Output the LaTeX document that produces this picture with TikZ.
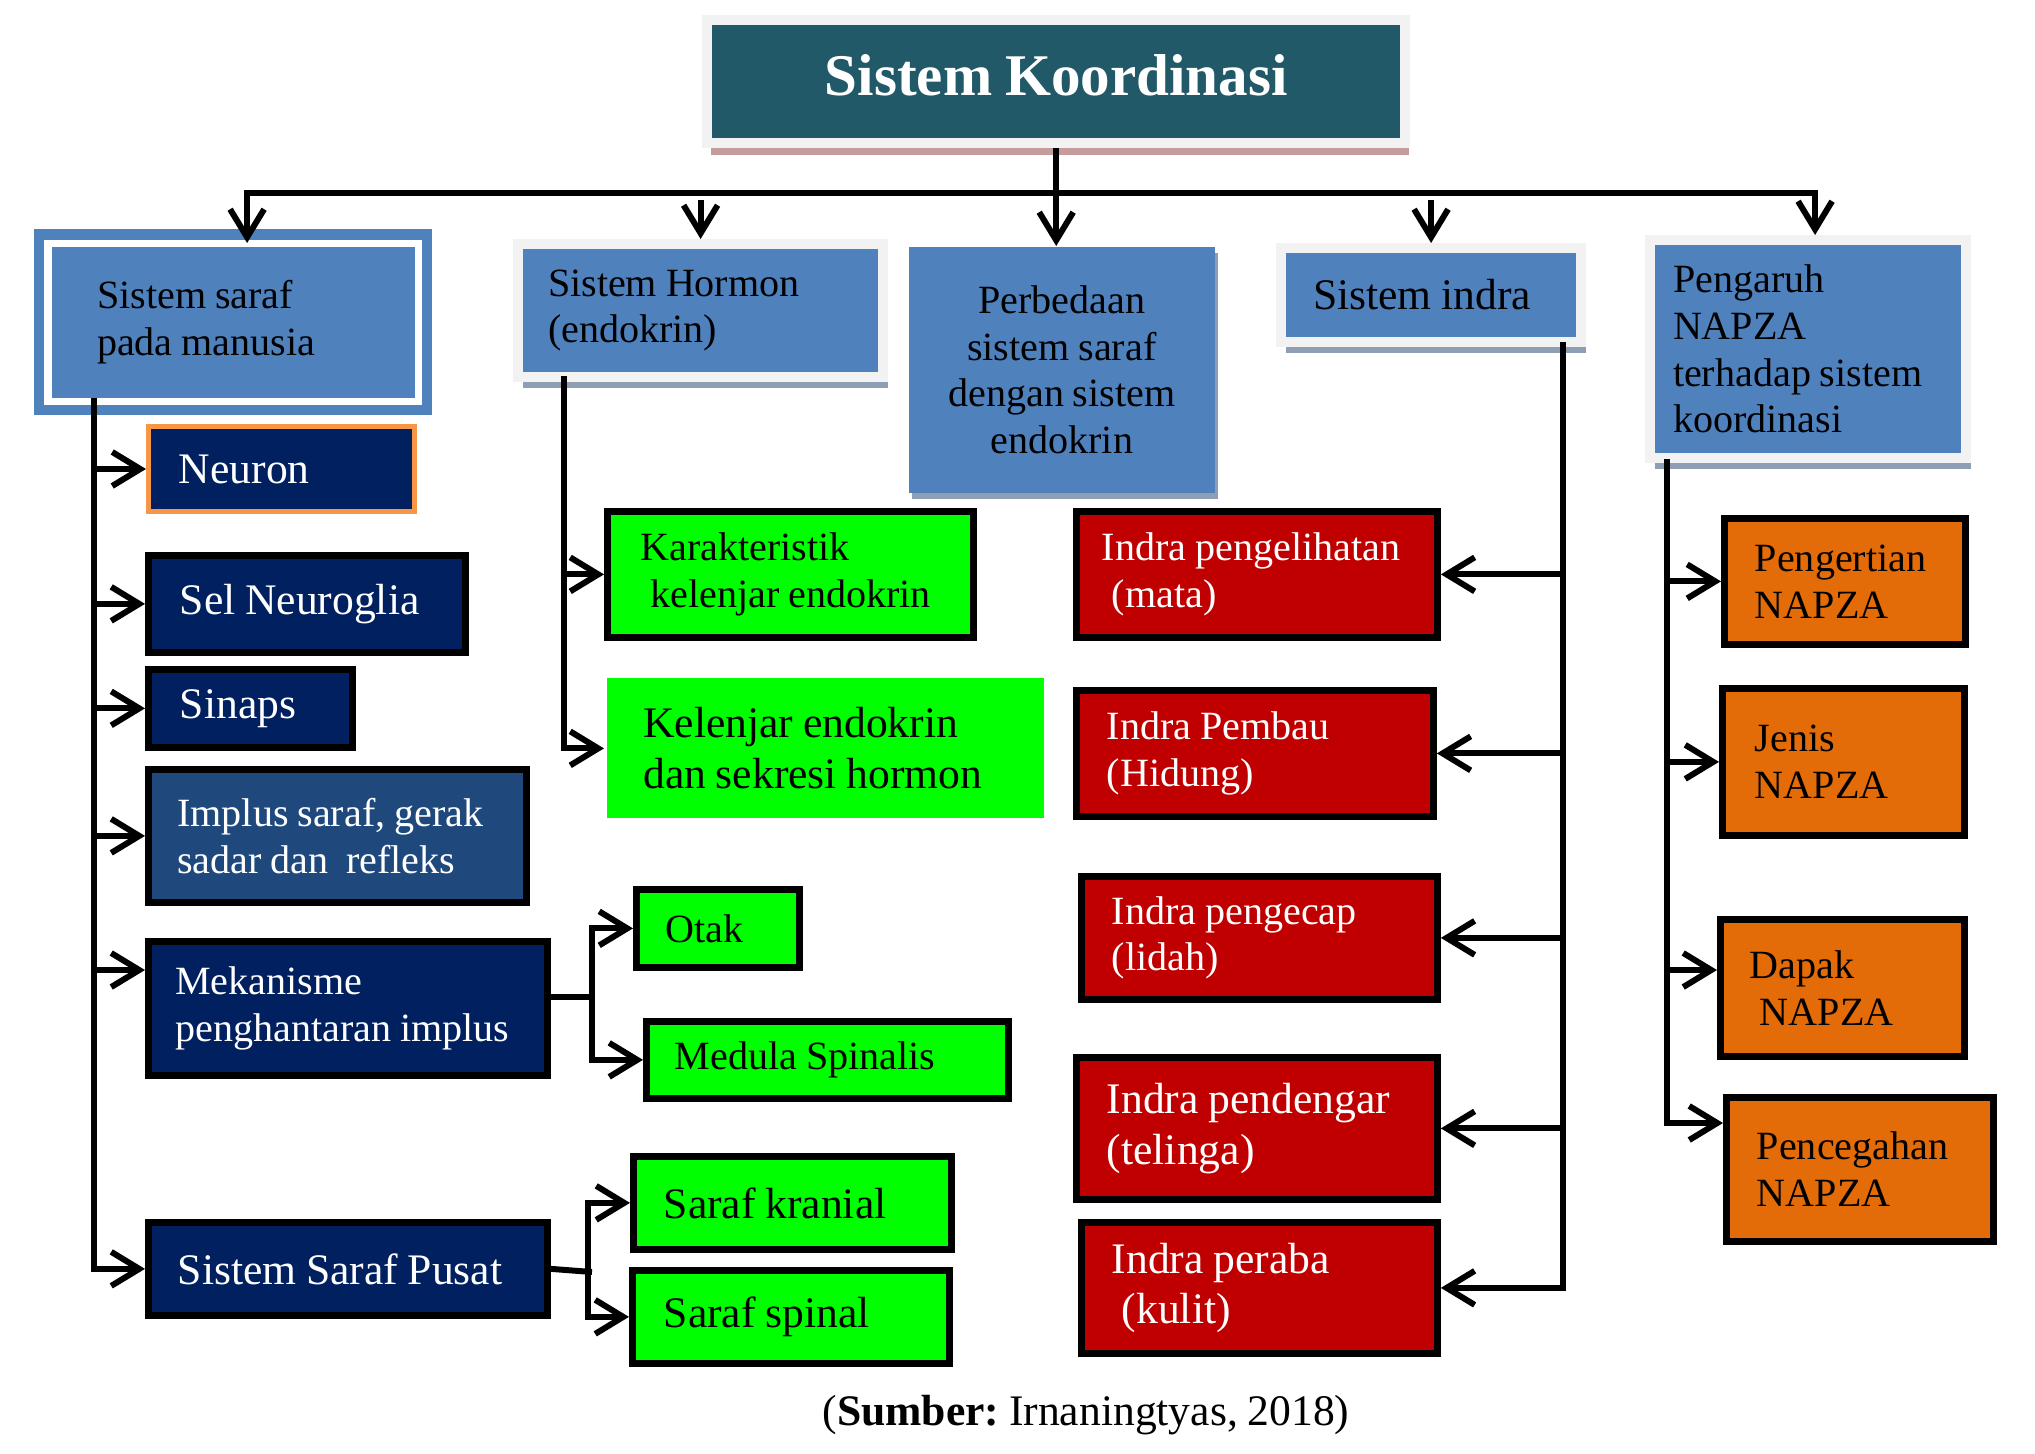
\documentclass[tikz,border=0pt]{standalone}
\usepackage{fontspec}
\setmainfont{Liberation Serif}[WordSpace=0.9]
\frenchspacing
\usepackage{tikz}
\usetikzlibrary{arrows.meta, shadows}

\definecolor{titleteal}{RGB}{33,89,104}
\definecolor{framegray}{RGB}{242,242,242}
\definecolor{shadowrose}{RGB}{196,156,156}
\definecolor{shadowslate}{RGB}{141,158,181}
\definecolor{mainblue}{RGB}{79,129,189}
\definecolor{navy}{RGB}{0,32,96}
\definecolor{implusblue}{RGB}{31,73,125}
\definecolor{neuronorange}{RGB}{247,150,70}
\definecolor{neongreen}{RGB}{0,255,0}
\definecolor{indrared}{RGB}{192,0,0}
\definecolor{napzaorange}{RGB}{227,108,9}

\newcommand{\titlefont}{\fontsize{16.8}{20}\selectfont\bfseries}
\newcommand{\boxfont}{\fontsize{11.4}{13.3}\selectfont}
\newcommand{\boxfontlarge}{\fontsize{12.4}{14.4}\selectfont}

\tikzstyle{arrow} = [line width=1.7pt,->,>={Straight Barb[length=2.8mm,width=3.4mm]}]
\tikzstyle{link} = [line width=1.7pt]

\tikzset{
  basebox/.style={anchor=north west, inner sep=0pt, align=left,
    execute at begin node={\spaceskip=0.22em\relax}},
  titlebox/.style={basebox, align=center, fill=titleteal, draw=framegray, line width=0.1cm,
    text=white, font=\titlefont, text depth=0.14cm,
    drop shadow={shadow xshift=0.04cm, shadow yshift=-0.12cm, fill=shadowrose, opacity=1}},
  sarafbox/.style={basebox, outer sep=0pt, fill=mainblue, draw=mainblue, line width=0.1cm,
    double=white, double distance=0.07cm, font=\boxfont},
  framebox/.style={basebox, fill=mainblue, draw=framegray, line width=0.1cm,
    drop shadow={shadow xshift=0.05cm, shadow yshift=-0.11cm, fill=shadowslate, opacity=1}},
  plainblue/.style={basebox, align=center, fill=mainblue,
    drop shadow={shadow xshift=0.03cm, shadow yshift=-0.06cm, fill=shadowslate, opacity=1}},
  navybox/.style={basebox, fill=navy, draw=black, line width=1.9pt, text=white},
  greenbox/.style={basebox, fill=neongreen, draw=black, line width=1.9pt},
  redbox/.style={basebox, fill=indrared, draw=black, line width=1.9pt, text=white},
  orangebox/.style={basebox, fill=napzaorange, draw=black, line width=1.9pt}
}

\begin{document}
\begin{tikzpicture}[x=0.01cm, y=-0.01cm]
\useasboundingbox (0,0) rectangle (2035,1454);

%Nodes
\node[titlebox, minimum width=6.98cm, minimum height=1.23cm] (koordinasi) at (702,15) {Sistem Koordinasi};

\node[sarafbox, minimum width=3.70cm, minimum height=1.58cm, text width=2.72cm] (saraf) at (48,243) {Sistem saraf\\pada manusia};
\node[framebox, font=\boxfont, minimum width=3.65cm, minimum height=1.33cm, text width=3.05cm] (hormon) at (513,239) {Sistem Hormon\\(endokrin)};
\node[plainblue, font=\boxfont, minimum width=3.06cm, minimum height=2.46cm] (perbedaan) at (908,246) {Perbedaan\\sistem saraf\\dengan sistem\\endokrin};
\node[framebox, font=\boxfontlarge, minimum width=3.0cm, minimum height=0.94cm, text width=2.36cm] (indra) at (1276,243) {Sistem indra};
\node[framebox, font=\boxfont, minimum width=3.16cm, minimum height=2.18cm, text width=2.7cm] (pengaruh) at (1645,235) {Pengaruh\\NAPZA\\terhadap sistem\\koordinasi};

\node[navybox, draw=neuronorange, line width=1.4pt, font=\boxfontlarge, minimum width=2.66cm, minimum height=0.85cm, text width=2.05cm] (neuron) at (146,424) {Neuron};
\node[navybox, font=\boxfontlarge, minimum width=3.17cm, minimum height=0.97cm, text width=2.54cm] (neuroglia) at (145,552) {Sel Neuroglia};
\node[navybox, font=\boxfontlarge, minimum width=2.04cm, minimum height=0.78cm, text width=1.41cm] (sinaps) at (145,666) {Sinaps};
\node[navybox, fill=implusblue, font=\boxfont, minimum width=3.78cm, minimum height=1.33cm, text width=3.2cm] (implus) at (145,766) {Implus saraf, gerak\\sadar dan~ refleks};
\node[navybox, font=\boxfont, minimum width=3.99cm, minimum height=1.34cm, text width=3.45cm] (mekanisme) at (145,938) {Mekanisme\\penghantaran implus};
\node[navybox, font=\boxfontlarge, minimum width=3.99cm, minimum height=0.93cm, text width=3.4cm] (pusat) at (145,1219) {Sistem Saraf Pusat};

\node[greenbox, font=\boxfont, minimum width=3.66cm, minimum height=1.26cm, text width=3.0cm] (karakter) at (604,508) {Karakteristik\\\hspace*{0.1cm}kelenjar endokrin};
\node[greenbox, draw=none, font=\boxfontlarge, minimum width=4.36cm, minimum height=1.40cm, text width=3.64cm] (kelenjar) at (604,675) {Kelenjar endokrin\\dan sekresi hormon};
\node[greenbox, font=\boxfont, minimum width=1.63cm, minimum height=0.78cm, text width=1.04cm] (otak) at (633,886) {Otak};
\node[greenbox, font=\boxfont, minimum width=3.62cm, minimum height=0.77cm, text width=3.05cm] (medula) at (643,1018) {Medula Spinalis};
\node[greenbox, font=\boxfontlarge, minimum width=3.18cm, minimum height=0.93cm, text width=2.57cm] (kranial) at (630,1153) {Saraf kranial};
\node[greenbox, font=\boxfontlarge, minimum width=3.17cm, minimum height=0.93cm, text width=2.54cm] (spinal) at (629,1267) {Saraf spinal};

\node[redbox, font=\boxfont, minimum width=3.61cm, minimum height=1.26cm, text width=3.1cm] (mata) at (1073,508) {Indra pengelihatan\\\hspace*{0.1cm}(mata)};
\node[redbox, font=\boxfont, minimum width=3.57cm, minimum height=1.26cm, text width=2.96cm] (hidung) at (1073,687) {Indra Pembau\\(Hidung)};
\node[redbox, font=\boxfont, minimum width=3.56cm, minimum height=1.23cm, text width=2.95cm] (lidah) at (1078,873) {Indra pengecap\\(lidah)};
\node[redbox, font=\boxfontlarge, minimum width=3.61cm, minimum height=1.42cm, text width=3.0cm] (telinga) at (1073,1054) {Indra pendengar\\(telinga)};
\node[redbox, font=\boxfontlarge, minimum width=3.56cm, minimum height=1.31cm, text width=2.95cm] (kulit) at (1078,1219) {Indra peraba\\\hspace*{0.1cm}(kulit)};

\node[orangebox, font=\boxfont, minimum width=2.41cm, minimum height=1.26cm, text width=1.8cm] (pengertian) at (1721,515) {Pengertian\\NAPZA};
\node[orangebox, font=\boxfont, minimum width=2.42cm, minimum height=1.47cm, text width=1.77cm] (jenis) at (1719,685) {Jenis\\NAPZA};
\node[orangebox, font=\boxfont, minimum width=2.44cm, minimum height=1.37cm, text width=1.85cm] (dapak) at (1717,916) {Dapak\\\hspace*{0.1cm}NAPZA};
\node[orangebox, font=\boxfont, minimum width=2.67cm, minimum height=1.44cm, text width=2.06cm] (pencegahan) at (1723,1094) {Pencegahan\\NAPZA};

\node[anchor=base, font=\boxfontlarge] (sumber) at (1086,1425) {(\textbf{Sumber:} Irnaningtyas, 2018)};

%Lines
\coordinate (hub) at (1056,193);
\draw[arrow] (koordinasi.south) -- (koordinasi.south |- perbedaan.north);
\draw[arrow] (hub) -| ([xshift=0.14cm]saraf.north);
\draw[arrow] (hub) -| ([xshift=0.07cm]pengaruh.north);
\draw[arrow, shorten <=0.07cm] (hub -| hormon.north) -- (hormon.north);
\draw[arrow, shorten <=0.07cm] (hub -| indra.north) -- (indra.north);

\coordinate (sarafstem) at (94,398);
\path ([yshift=-0.32cm]mekanisme.north west) coordinate (mekin);
\draw[arrow] (sarafstem) |- (pusat.west);
\foreach \n in {neuron,neuroglia,sinaps,implus}
  \draw[arrow] (sarafstem |- \n.west) -- (\n.west);
\draw[arrow] (sarafstem |- mekin) -- (mekin);

\coordinate (hormonstem) at (564,376);
\draw[arrow] (hormonstem) |- (kelenjar.west);
\draw[arrow] (hormonstem |- karakter.west) -- (karakter.west);

\coordinate (mekfork) at (592,997);
\draw[link] (mekanisme.east |- mekfork) -- (mekfork);
\draw[arrow] (mekfork) |- (otak.west);
\draw[arrow] (mekfork) |- (medula.west);

\coordinate (pusatfork) at (588,1272);
\draw[link] (pusat.east) -- ([xshift=0.04cm]pusatfork);
\draw[arrow] (pusatfork) |- (kranial.west);
\draw[arrow] (pusatfork) |- (spinal.west);

\coordinate (indrastem) at (1563,342);
\draw[arrow] (indrastem) |- (kulit.east);
\foreach \n in {mata,hidung,lidah,telinga}
  \draw[arrow] (indrastem |- \n.east) -- (\n.east);

\coordinate (napzastem) at (1667,459);
\path ([yshift=-0.54cm]dapak.north west) coordinate (dapakin);
\path ([yshift=-0.29cm]pencegahan.north west) coordinate (cegahin);
\draw[arrow] (napzastem) |- (cegahin);
\foreach \n in {pengertian,jenis}
  \draw[arrow] (napzastem |- \n.west) -- (\n.west);
\draw[arrow] (napzastem |- dapakin) -- (dapakin);
\end{tikzpicture}
\end{document}
